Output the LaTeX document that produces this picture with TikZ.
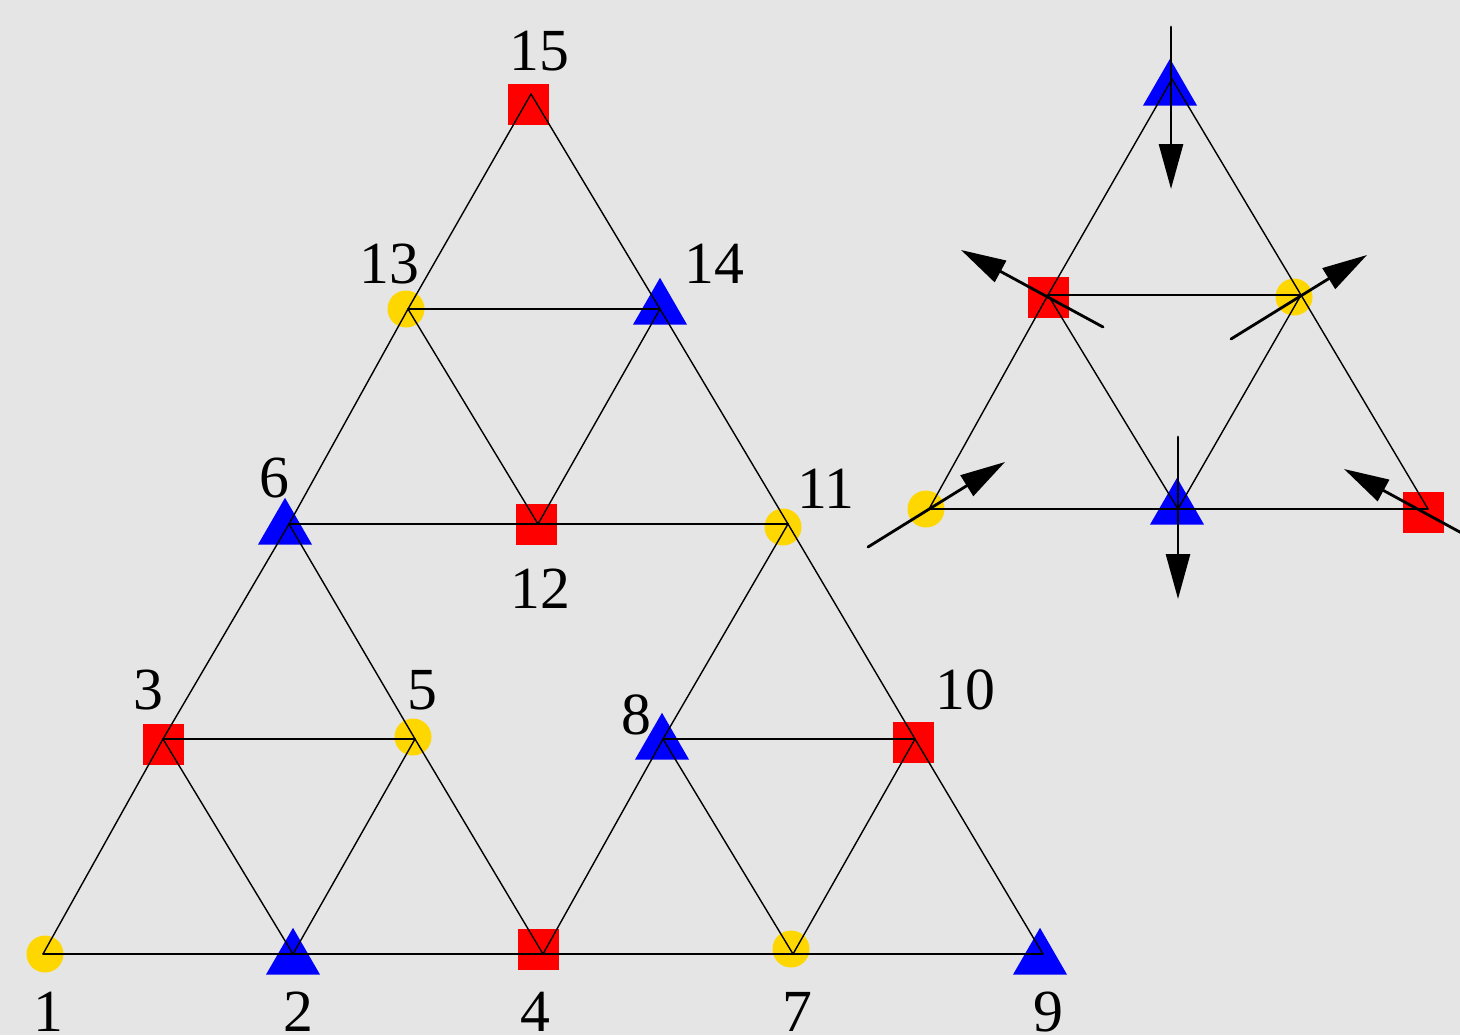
\documentclass[tikz,border=0pt]{standalone}
\usepackage{fontspec}
\setmainfont{Liberation Serif}
\usetikzlibrary{shapes.geometric,arrows.meta}

\definecolor{bggray}{HTML}{E5E5E5}
\definecolor{siteyellow}{HTML}{FFD700}
\definecolor{sitered}{HTML}{FF0000}
\definecolor{siteblue}{HTML}{0000FF}

\begin{document}
\begin{tikzpicture}[
  x=0.1mm, y=-0.1mm,
  line cap=round,
  font=\fontsize{17}{20}\selectfont,
  bond/.style={black, line width=0.4pt},
  spin/.style={black, line width=0.8pt,
    -{Triangle[length=4.5mm, width=2.4mm]}},
  siteA/.style={circle, fill=siteyellow, minimum size=3.7mm, inner sep=0pt},
  siteB/.style={rectangle, fill=sitered, minimum size=4.1mm, inner sep=0pt},
  siteC/.style={regular polygon, regular polygon sides=3, fill=siteblue,
    minimum size=6.24mm, inner sep=0pt},
  num/.style={inner sep=0pt}
]
  % 画布
  \useasboundingbox (0,0) rectangle (1460,1035);
  \clip (0,0) rectangle (1460,1035);
  \fill[bggray] (0,0) rectangle (1460,1035);

  % 格点 (左侧)
  \foreach \n/\px/\py in {1/43/954, 2/293/954, 4/543/954, 7/793/954, 9/1043/954,
                          3/163/739, 5/415/739, 8/663/739, 10/915/739,
                          6/289/524, 12/538/524, 11/788/524,
                          13/408/309, 14/660/309, 15/531/94}
    \coordinate (v\n) at (\px,\py);

  % 格点 (右侧)
  \coordinate (rT)  at (1172,79);
  \coordinate (rL)  at (1048,295);
  \coordinate (rR)  at (1301,295);
  \coordinate (rBL) at (929,509);
  \coordinate (rBM) at (1178,509);
  \coordinate (rBR) at (1428,509);

  % 黄色圆点
  \foreach \n/\dx/\dy in {1/2/0, 5/-2/-2, 7/-2/-5, 11/-5/3, 13/-2/0}
    \node[siteA] (m\n) at ([shift={(\dx,\dy)}]v\n) {};
  \node[siteA] (mR)  at ([shift={(-7,2)}]rR) {};
  \node[siteA] (mBL) at ([shift={(-3,0)}]rBL) {};

  % 红色方块
  \foreach \n/\dx/\dy in {3/0/5, 4/-5/-5, 10/-2/3, 12/-2/0, 15/-3/10}
    \node[siteB] (m\n) at ([shift={(\dx,\dy)}]v\n) {};
  \node[siteB] (mL)  at ([shift={(0,2)}]rL) {};
  \node[siteB] (mBR) at ([shift={(-5,3)}]rBR) {};

  % 蓝色三角
  \foreach \n/\dx/\dy in {2/0/5, 6/-4/5, 8/-1/5, 9/-3/5, 14/0/0}
    \node[siteC] (m\n) at ([shift={(\dx,\dy)}]v\n) {};
  \node[siteC] (mT)  at ([shift={(-2,11)}]rT) {};
  \node[siteC] (mBM) at ([shift={(-1,0)}]rBM) {};

  % 键
  \foreach \a/\b in {1/2, 2/4, 4/7, 7/9, 1/3, 3/6, 6/13, 13/15, 15/14, 14/11,
                     11/10, 10/9, 3/2, 3/5, 2/5, 5/6, 5/4, 6/12, 12/11,
                     13/12, 13/14, 12/14, 4/8, 8/11, 8/10, 8/7, 7/10}
    \draw[bond] (v\a) -- (v\b);
  \foreach \a/\b in {rT/rL, rL/rBL, rT/rR, rR/rBR, rBL/rBM, rBM/rBR,
                     rL/rR, rL/rBM, rR/rBM}
    \draw[bond] (\a) -- (\b);

  % 编号
  \foreach \n/\px/\py in {1/48/1012, 2/298/1012, 4/535/1012, 7/797/1012, 9/1048/1012,
                          3/148/690, 5/422/690, 8/636/715, 10/965/690,
                          6/274/478, 12/540/589, 11/826/489,
                          13/389/264, 14/714/264, 15/539/51}
    \node[num] (l\n) at (\px,\py) {\n};

  % 自旋方向
  \draw[spin] ([shift={(-1,-52)}]rT)  -- ([shift={(-1,110)}]rT);
  \draw[spin] ([shift={(55,32)}]rL)   -- ([shift={(-87,-45)}]rL);
  \draw[spin] ([shift={(-70,44)}]rR)  -- ([shift={(66,-40)}]rR);
  \draw[spin] ([shift={(-61,38)}]rBL) -- ([shift={(76,-47)}]rBL);
  \draw[spin] ([shift={(0,-72)}]rBM)  -- ([shift={(0,90)}]rBM);
  \draw[spin] ([shift={(52,34)}]rBR)  -- ([shift={(-84,-40)}]rBR);

\end{tikzpicture}
\end{document}
